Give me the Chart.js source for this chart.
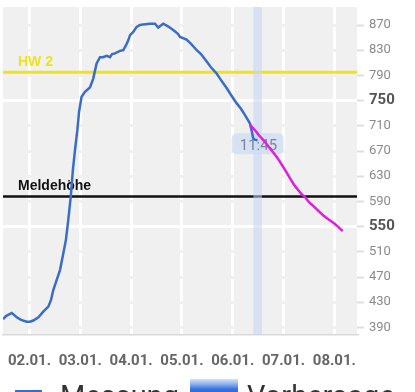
<!DOCTYPE html>
<html><head><meta charset="utf-8">
<script src="https://cdn.jsdelivr.net/npm/chart.js@4.4.1/dist/chart.umd.min.js"></script>
<style>
html,body{margin:0;padding:0;background:#fff;overflow:hidden;width:415px;height:392px;}
#wrap{position:relative;width:415px;height:392px;overflow:hidden;}
canvas{position:absolute;left:0;top:0;}
.lg{position:absolute;font-family:Roboto,sans-serif;font-size:29px;line-height:29px;color:#333;white-space:nowrap;}
</style></head><body>
<div id="wrap">
<canvas id="c" width="415" height="392"></canvas>
<div style="position:absolute;left:15px;top:390px;width:27px;height:3px;background:#3a6cc8"></div>
<span class="lg" style="left:60px;top:382px">Messung</span>
<div style="position:absolute;left:190px;top:379px;width:48px;height:20px;background:linear-gradient(to bottom,#d4e3fa 0%,#8fb3ef 25%,#3a74e0 50%,#1a55d2 100%)"></div>
<span class="lg" style="left:247px;top:382px">Vorhersage</span>
</div>
<script>
// ---- data (hours relative to 02.01. 00:00) ----
const measureHours = [-12.5,-11.1,-8.4,-7.3,-6.0,-4.0,-1.3,0.2,1.8,4.2,6.5,8.9,10.2,11.2,12.5,14.4,16.0,17.2,18.2,19.5,20.5,21.5,22.6,23.4,24.6,26.2,27.6,28.6,30.1,31.7,33.3,34.7,36.5,38.0,39.0,40.4,42.7,44.3,45.6,46.7,47.5,49.0,50.6,52.2,53.7,56.9,59.3,60.8,63.2,65.4,67.9,70.1,71.1,74.2,76.3,79.0,81.0,83.7,85.7,88.4,90.4,93.1,95.2,97.8,99.9,101.8,104.1,104.9,105.7,106.5,107.7];
const measureValues = [403,408,413,410,406,402,399,399,401,406,415,423,434,449,462,481,508,529,557,598,640,672,703,732,756,764,768,771,785,809,819,819,821,819,824,825,829,830,838,846,854,859,867,870,871,872,872,866,872,868,862,856,851,847,840,830,824,812,803,793,783,770,759,746,737,727,714,703,690,688,687];
const forecastHours = [104.1,106.5,108.9,111.3,113.6,116.0,118.3,120.7,123.0,124.9,126.9,128.4,130.1,132.0,134.0,136.2,138.7,141.0,143.5,145.7,147.9];
const forecastValues = [712,703,693,684,674,664,653,640,627,617,608,602,597,589,583,576,568,562,556,550,543];
const xTickHours = [0,24,48,72,96,120,144];
const xTickLabels = ['02.01.','03.01.','04.01.','05.01.','06.01.','07.01.','08.01.'];
const yTickValues = [390,430,470,510,550,590,630,670,710,750,790,830,870];
const yBoldTicks = [550,750];
const refLabels = ['HW 2','Meldehöhe'];
const refValues = [795,598];
const nowHour = 107.75;
const nowLabel = '11:45';
const xRange = [-12.52,154.7];
const yRange = [378,898.6];

// ---- styles ----
const refColors = ['#f1e21e','#111111'];
const refWidths = [3,2.5];
const BG = '#f0f0f0';

const overlay = {
  id:'overlay',
  beforeDraw(chart){
    const {ctx, chartArea:a} = chart;
    ctx.save();
    ctx.fillStyle = BG;
    ctx.fillRect(a.left,a.top,a.right-a.left,a.bottom-a.top);
    ctx.restore();
  },
  beforeDatasetsDraw(chart){
    const {ctx, chartArea:a, scales:{x,y}} = chart;
    ctx.save();
    refValues.forEach((v,i)=>{
      const py = y.getPixelForValue(v);
      ctx.strokeStyle = refColors[i];
      ctx.lineWidth = refWidths[i];
      ctx.beginPath(); ctx.moveTo(a.left,py); ctx.lineTo(a.right,py); ctx.stroke();
      ctx.fillStyle = refColors[i];
      ctx.font = 'bold 14px "Liberation Sans", Arial, sans-serif';
      ctx.textAlign = 'left'; ctx.textBaseline = 'middle';
      ctx.fillText(refLabels[i], a.left+15, py-10.5);
    });
    const px = x.getPixelForValue(nowHour);
    ctx.fillStyle = 'rgba(195,213,245,0.55)';
    ctx.fillRect(px-4.3, a.top, 8.6, a.bottom-a.top);
    // label box
    const bx = px-26, by = 133.3, bw = 52, bh = 21, r = 6;
    ctx.beginPath();
    ctx.moveTo(bx+r,by); ctx.lineTo(bx+bw-r,by); ctx.quadraticCurveTo(bx+bw,by,bx+bw,by+r);
    ctx.lineTo(bx+bw,by+bh-r); ctx.quadraticCurveTo(bx+bw,by+bh,bx+bw-r,by+bh);
    ctx.lineTo(bx+r,by+bh); ctx.quadraticCurveTo(bx,by+bh,bx,by+bh-r);
    ctx.lineTo(bx,by+r); ctx.quadraticCurveTo(bx,by,bx+r,by); ctx.closePath();
    ctx.fillStyle = 'rgba(205,220,246,0.75)';
    ctx.fill();
    ctx.fillStyle = '#7b8597';
    ctx.font = '15px Roboto, sans-serif';
    ctx.textAlign = 'center'; ctx.textBaseline = 'middle';
    ctx.fillText(nowLabel, px+0.8, 146.5);
    ctx.restore();
  }
};

new Chart(document.getElementById('c'), {
  type:'line',
  data:{
    datasets:[
      {label:'Messung', data: measureHours.map((h,i)=>({x:h,y:measureValues[i]})), borderColor:'#3a6cc8', borderWidth:2.5, pointRadius:0, tension:0, order:1},
      {label:'Vorhersage', data: forecastHours.map((h,i)=>({x:h,y:forecastValues[i]})), borderColor:'#e01ee0', borderWidth:2.5, pointRadius:0, tension:0.3, order:0}
    ]
  },
  options:{
    responsive:false, animation:false, devicePixelRatio:1,
    layout:{padding:{left:3,top:7,right:0,bottom:0}, autoPadding:false},
    plugins:{legend:{display:false}, tooltip:{enabled:false}},
    scales:{
      x:{
        type:'linear', min:xRange[0], max:xRange[1],
        afterBuildTicks: s => { s.ticks = xTickHours.map(v=>({value:v})); },
        afterFit: s => { s.height = 57; s.paddingLeft = 0; s.paddingRight = 0; },
        grid:{color:'#ffffff', lineWidth:3, drawTicks:false, z:-2},
        border:{display:true, color:'#d9d9d9', width:1.5},
        ticks:{callback: v => xTickLabels[xTickHours.indexOf(v)], font:{family:'Roboto', size:15, weight:'bold'}, color:'#666666', padding:17, maxRotation:0, autoSkip:false}
      },
      y:{
        type:'linear', position:'right', min:yRange[0], max:yRange[1],
        afterBuildTicks: s => { s.ticks = yTickValues.map(v=>({value:v})); },
        afterFit: s => { s.width = 58; s.paddingTop = 0; s.paddingBottom = 0; },
        grid:{color: c => (c.tick && yBoldTicks.includes(c.tick.value)) ? '#ffffff' : BG, lineWidth:3, tickLength:7, tickColor:'#dedede', tickWidth:2, z:-1},
        border:{display:false},
        ticks:{
          autoSkip:false, padding:5,
          font: c => (c.tick && yBoldTicks.includes(c.tick.value)) ? {family:'Roboto', size:15, weight:'bold'} : {family:'Roboto', size:13},
          color: c => (c.tick && yBoldTicks.includes(c.tick.value)) ? '#555555' : '#8a8a8a'
        }
      }
    }
  },
  plugins:[overlay]
});
</script>
</body></html>
